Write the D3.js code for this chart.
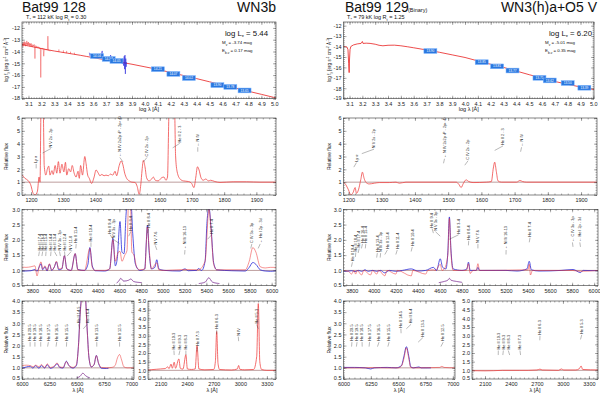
<!DOCTYPE html>
<html>
<head>
<meta charset="utf-8">
<script src="https://cdn.jsdelivr.net/npm/d3@7/dist/d3.min.js"></script>
<style>
  body { margin: 0; background: #fff; }
  svg { font-family: "Liberation Sans", Arial, sans-serif; }
</style>
</head>
<body>
<svg id="chart" width="600" height="394"></svg>
<script>
// ===== Bat99 128 =====
// SED: model (log lambda, log f)
var sedModel128 = [[3.05,-13.42],[3.1,-13.53],[3.15,-13.64],[3.2,-13.75],[3.25,-13.86],[3.3,-13.96],[3.35,-14.05],[3.4,-14.14],[3.45,-14.23],[3.5,-14.32],[3.55,-14.42],[3.6,-14.52],[3.65,-14.62],[3.7,-14.7],[3.75,-14.78],[3.8,-14.88],[3.85,-14.98],[3.9,-15.08],[4.0,-15.3],[4.1,-15.52],[4.2,-15.78],[4.3,-16.04],[4.4,-16.3],[4.5,-16.57],[4.6,-16.84],[4.7,-17.1],[4.8,-17.37],[4.9,-17.63],[5.0,-17.9],[5.013,-17.93]];
// small emission spikes on the model: [log lambda, base, top]
var sedSpikes128 = [[3.335,-14.03,-13.82],[3.37,-14.09,-13.9],[3.395,-14.13,-13.95],[3.425,-14.18,-14.02],[3.455,-14.24,-14.1]];
var sedUV128 = [[3.05,-13.55],[3.053,-13.3],[3.057,-13.6],[3.06,-13.25],[3.064,-13.5],[3.067,-13.15],[3.07,-13.45],[3.074,-13.2],[3.077,-13.55],[3.08,-13.3],[3.084,-13.4],[3.087,-13.1],[3.09,-13.45],[3.094,-13.25],[3.097,-13.5],[3.1,-13.2],[3.104,-13.45],[3.107,-13.3],[3.11,-13.55],[3.114,-13.35],[3.117,-13.5],[3.12,-13.3],[3.124,-13.55],[3.128,-13.4],[3.132,-13.6],[3.136,-13.45],[3.14,-13.55],[3.144,-13.4],[3.148,-13.6],[3.15,-14.6],[3.152,-13.55],[3.156,-13.5],[3.16,-13.65],[3.164,-13.55],[3.168,-13.6],[3.172,-13.7],[3.176,-13.6],[3.18,-13.7],[3.184,-13.65],[3.188,-13.75],[3.192,-13.7],[3.195,-16.2],[3.198,-13.7],[3.202,-13.75],[3.206,-13.7],[3.21,-13.8],[3.214,-13.75],[3.218,-14.4],[3.222,-13.8],[3.228,-13.82],[3.234,-13.85],[3.24,-13.85],[3.246,-13.88],[3.25,-12.7],[3.254,-13.9],[3.26,-13.92],[3.27,-13.95]];
var sedOpt128 = [[3.57,-14.1],[3.575,-14.35],[3.58,-14.2],[3.59,-14.45],[3.6,-14.35],[3.61,-14.5],[3.62,-14.4],[3.63,-14.55],[3.64,-14.45],[3.65,-14.5],[3.66,-14.3],[3.67,-13.95],[3.675,-14.5],[3.68,-14.6],[3.69,-14.5],[3.7,-14.65],[3.71,-14.55],[3.72,-14.7],[3.73,-14.5],[3.735,-14.3],[3.74,-14.7],[3.75,-14.75],[3.76,-14.65],[3.77,-14.8],[3.78,-14.75],[3.79,-14.85],[3.8,-14.8],[3.81,-14.9],[3.82,-14.75],[3.825,-15.05],[3.83,-14.6],[3.835,-15.2],[3.84,-14.4],[3.843,-15.5],[3.846,-14.3],[3.849,-15.9],[3.852,-14.6],[3.855,-15.3],[3.858,-14.9]];
var photo128 = [[3.63,-14.39,"14.04"],[3.72,-14.63,"14.17"],[3.78,-14.8,"14.05"],[4.1,-15.5,"14.21"],[4.22,-15.9,"14.07"],[4.34,-16.25,"14.02"],[4.56,-16.85,"13.90"],[4.66,-17.0,"13.78"],[4.77,-17.3,"13.65"]];

// UV normalized (lambda, rel. flux)
var uv128 = [[1173,1.55],[1181,1.3],[1190,1.15],[1199,0.8],[1207,0.1],[1213,0],[1220,0.3],[1225,1.4],[1228,1.0],[1231,6.5],[1238,6.5],[1241,2.3],[1246,1.55],[1251,2.05],[1255,2.25],[1259,1.55],[1265,1.9],[1269,1.6],[1275,2.3],[1280,1.7],[1285,2.6],[1290,1.7],[1296,2.4],[1302,1.8],[1307,2.55],[1311,1.55],[1317,2.05],[1323,1.8],[1328,2.3],[1334,1.7],[1340,1.4],[1346,1.85],[1350,1.3],[1354,2.3],[1360,1.55],[1367,3.0],[1371,2.45],[1376,1.55],[1381,1.3],[1388,0.9],[1396,1.4],[1402,1.95],[1409,1.7],[1414,1.5],[1420,1.6],[1427,1.5],[1433,1.55],[1440,1.5],[1447,1.63],[1454,1.55],[1461,1.85],[1466,1.5],[1474,2.3],[1480,2.65],[1485,2.4],[1491,1.7],[1497,1.3],[1505,1.1],[1513,1.0],[1523,0.98],[1530,0.65],[1536,0.05],[1541,0.8],[1545,1.95],[1549,2.7],[1554,2.2],[1559,1.35],[1566,1.1],[1575,1.25],[1580,1.4],[1586,1.15],[1595,1.1],[1606,1.35],[1613,1.4],[1619,1.15],[1624,1.4],[1629,6.5],[1646,6.5],[1649,3.1],[1654,1.8],[1663,1.25],[1673,1.1],[1689,1.05],[1699,0.9],[1706,0.57],[1712,1.4],[1717,2.2],[1722,1.95],[1728,1.35],[1735,1.15],[1743,1.25],[1751,1.1],[1758,1.15],[1771,1.05],[1787,0.98],[1828,1.03],[1870,1.03],[1911,1.0],[1961,1.0]];
// labels: [line lambda, text lambda, text, bottom value]
var uvLab128 = [[1216,1216,"Ly α",2.5],[1236,1262,"N V 2s - 2p",3.7],[1486,1476,"← N IV 2s2p ¹P - 2p² ¹D",3.0],[1549,1560,"C IV 2s - 2p",3.0],[1640,1662,"He II 2 - 3",4.1],[1718,1718,"← N IV",3.8]];

// optical: observed (blue) and model (red)
var opt128Obs = [[3686,0.98],[3741,0.98],[3788,0.99],[3824,1.03],[3843,0.97],[3864,1.12],[3880,1.22],[3895,1.02],[3917,1.12],[3935,0.98],[3957,1.2],[3978,1.0],[4003,1.12],[4021,1.28],[4043,1.02],[4071,1.05],[4095,1.48],[4117,1.05],[4157,1.0],[4194,1.55],[4218,1.03],[4280,1.0],[4311,1.2],[4329,1.75],[4351,1.15],[4378,0.99],[4464,0.98],[4511,1.05],[4541,2.05],[4563,1.15],[4581,1.4],[4606,2.6],[4624,1.6],[4643,1.55],[4661,2.8],[4680,3.4],[4704,3.4],[4723,2.2],[4748,1.2],[4788,1.0],[4834,1.05],[4846,1.8],[4858,2.48],[4874,1.6],[4895,1.05],[4926,1.1],[4944,1.35],[4963,1.05],[5018,1.0],[5157,0.98],[5203,1.05],[5234,0.99],[5311,1.0],[5326,1.06],[5357,1.0],[5388,1.3],[5406,2.6],[5424,3.05],[5443,2.4],[5467,1.25],[5495,1.02],[5634,0.99],[5757,0.98],[5794,1.1],[5827,1.26],[5855,1.2],[5895,1.02],[5941,0.98],[5988,0.97],[6040,0.99]];
var opt128Mod = [[3686,1.12],[3741,1.1],[3788,1.12],[3824,1.15],[3843,0.82],[3864,1.15],[3880,1.28],[3895,1.05],[3917,1.15],[3935,1.0],[3957,1.22],[3978,1.02],[4003,1.12],[4021,1.3],[4043,1.05],[4071,1.06],[4095,1.48],[4117,1.05],[4157,1.0],[4194,1.55],[4218,1.02],[4280,1.0],[4329,1.72],[4351,1.1],[4378,1.0],[4464,1.0],[4511,1.05],[4541,2.0],[4563,1.3],[4590,1.6],[4606,1.62],[4624,1.3],[4650,1.5],[4670,1.65],[4686,3.4],[4700,3.4],[4715,1.6],[4735,1.5],[4760,1.1],[4788,1.02],[4834,1.05],[4858,2.42],[4874,1.7],[4895,1.05],[4944,1.25],[4963,1.02],[5018,1.0],[5203,1.03],[5326,1.02],[5388,1.3],[5424,3.0],[5443,2.3],[5467,1.2],[5495,1.02],[5757,1.02],[5794,1.3],[5827,1.75],[5855,1.6],[5895,1.12],[5941,1.08],[5988,1.1],[6040,1.1]];
var opt128InsetA = [[4575,0.58],[4600,0.68],[4612,0.74],[4640,0.65],[4686,0.68],[4705,0.72],[4730,0.64],[4770,0.61],[4805,0.6]];
var opt128InsetB = [[5330,0.57],[5390,0.62],[5422,0.76],[5455,0.62],[5520,0.57]];
var optLab128 = [[3858,3865,"He II 17-4",1.65],[3888,3895,"He II 16-4",1.65],[3923,3926,"He II 15-4",1.65],[3968,3972,"He II 14-4",1.65],[4026,4003,"He II 13-4",1.65],[4058,4050,"N IV 3s - 3p",1.65],[4100,4096,"He II 12-4",1.65],[4120,4157,"N V 11-8",1.65],[4200,4203,"He II 11-4",1.9],[4339,4339,"He II 10-4",1.95],[4541,4515,"He II 9-4",2.2],[4603,4545,"N V 3s - 3p",2.05],[4686,4704,"He II 3-4",2.3],[4859,4870,"He II 8-4",2.4],[4945,4930,"N V 7-6",1.85],[5200,5203,"← N IV 16-13",1.7],[5411,5449,"He II 7-4",2.2],[5808,5818,"C IV 3s - 3p",1.9],[5876,5895,"← He I 2p - 3d",1.9]];

// He II 6560 region
var heii128Obs = [[6000,0.99],[6040,1.04],[6076,1.07],[6100,0.99],[6125,1.1],[6155,0.98],[6177,1.1],[6207,0.99],[6231,1.14],[6258,0.98],[6298,1.07],[6320,1.19],[6344,1.02],[6375,0.99],[6405,1.3],[6429,1.1],[6466,0.99],[6497,1.1],[6515,1.96],[6533,3.6],[6551,4.3],[6576,4.3],[6594,2.85],[6612,1.44],[6633,1.04],[6658,1.14],[6679,1.56],[6700,1.19],[6725,0.98],[6770,0.97],[6790,0.98]];
var heii128Mod = [[6000,1.1],[6040,1.12],[6076,1.1],[6100,1.05],[6125,1.12],[6155,1.05],[6177,1.15],[6207,1.02],[6231,1.18],[6258,1.02],[6298,1.1],[6320,1.22],[6344,1.05],[6375,1.02],[6405,1.28],[6429,1.1],[6466,1.02],[6497,1.15],[6515,1.9],[6533,3.5],[6551,4.3],[6576,4.3],[6594,2.8],[6612,1.45],[6633,1.05],[6658,1.15],[6679,1.55],[6700,1.2],[6725,1.02],[6770,1.0],[6820,1.02],[6850,1.1],[6872,1.45],[6891,1.6],[6910,1.35],[6930,1.05],[6960,1.0],[7023,1.0]];
var heii128Inset = [[6500,0.55],[6530,0.62],[6556,0.76],[6582,0.64],[6620,0.55]];
var heiiLab128 = [[6074,6074,"He II 20-5",2.2],[6118,6118,"He II 19-5",2.2],[6171,6171,"He II 18-5",2.2],[6234,6241,"He II 17-5",2.2],[6311,6317,"He II 16-5",2.2],[6406,6408,"He II 15-5",2.2],[6527,6515,"He II 14-5",3.0],[6560,6596,"He II 6-4",3.0],[6683,6683,"He II 13-5",2.2],[6891,6891,"He II 12-5",2.2]];

// He II 3-n (UV 2000-3400)
var uvHe128 = [[1957,1.02],[2000,1.04],[2050,1.06],[2100,1.08],[2150,1.1],[2180,1.2],[2195,1.1],[2217,1.36],[2232,1.12],[2253,1.47],[2268,1.12],[2306,1.66],[2322,1.12],[2352,1.07],[2385,1.9],[2402,1.08],[2450,1.05],[2490,1.08],[2511,2.42],[2532,1.08],[2600,1.03],[2700,1.05],[2718,1.5],[2733,3.24],[2748,1.4],[2765,1.05],[2900,1.02],[2966,1.08],[2981,1.28],[2995,1.06],[3050,1.03],[3150,1.05],[3185,1.8],[3203,4.85],[3220,1.5],[3240,1.05],[3300,1.0],[3403,1.0]];
var uvHeLab128 = [[2253,2250,"He II 10-3",2.2],[2306,2318,"He II 9-3",2.2],[2385,2385,"He II 8-3",2.2],[2511,2513,"He II 7-3",2.4],[2733,2733,"He II 6-3",3.4],[2981,2977,"N IV",3.0],[3203,3185,"He II 5-3",3.7]];

// ===== Bat99 129 =====
var sedModel129 = [[3.053,-14.0],[3.07,-14.02],[3.08,-14.05],[3.088,-14.3],[3.093,-15.6],[3.097,-16.5],[3.1,-15.2],[3.104,-14.3],[3.11,-14.0],[3.13,-13.85],[3.16,-13.75],[3.19,-13.7],[3.2,-13.52],[3.205,-13.7],[3.23,-13.68],[3.26,-13.7],[3.3,-13.78],[3.33,-13.88],[3.36,-13.93],[3.4,-13.88],[3.45,-13.87],[3.5,-13.93],[3.55,-14.02],[3.6,-14.12],[3.7,-14.33],[3.8,-14.55],[3.9,-14.8],[4.0,-15.05],[4.1,-15.38],[4.2,-15.7],[4.3,-16.0],[4.4,-16.35],[4.5,-16.7],[4.6,-17.02],[4.7,-17.35],[4.8,-17.62],[4.9,-17.88],[5.005,-18.12]];
var photo129 = [[3.73,-14.43,"13.90"],[4.13,-15.5,"13.85"],[4.25,-15.9,"13.81"],[4.37,-16.3,"13.77"],[4.58,-17.0,"13.71"],[4.66,-17.25,"13.62"],[4.8,-17.5,"13.50"],[4.93,-17.95,"13.39"]];

var uv129 = [[1185,1.0],[1192,0.8],[1200,0.4],[1207,0],[1214,0.2],[1220,0.58],[1224,0.13],[1230,0.4],[1237,1.2],[1242,1.78],[1247,1.3],[1252,1.0],[1262,0.86],[1278,0.92],[1293,0.97],[1323,0.97],[1343,1.0],[1353,0.92],[1373,1.0],[1524,1.0],[1532,0.84],[1539,0.58],[1546,0.92],[1554,1.18],[1562,1.05],[1575,0.97],[1615,1.0],[1630,1.05],[1636,2.1],[1640,2.56],[1645,1.83],[1650,1.1],[1660,1.0],[1706,1.0],[1716,1.13],[1724,1.05],[1736,1.0],[1948,1.0]];
var uvLab129 = [[1216,1224,"Ly α",2.6],[1240,1277,"N V 2s - 2p",3.65],[1486,1489,"← N IV 2s2p ¹P - 2p² ¹D",2.9],[1550,1560,"C IV 2s - 2p",2.75],[1640,1665,"He II 2 - 3",3.9],[1718,1721,"← N IV",3.8]];

var opt129Obs = [[3700,0.98],[3750,0.97],[3800,0.99],[3830,0.96],[3860,1.0],[3890,0.97],[3920,1.02],[3950,0.97],[3990,1.0],[4026,0.97],[4060,1.0],[4100,0.92],[4140,1.0],[4200,0.97],[4260,1.0],[4340,1.05],[4400,0.98],[4471,1.0],[4541,1.1],[4570,1.0],[4603,1.38],[4625,1.1],[4655,1.05],[4672,1.6],[4686,2.75],[4700,1.7],[4720,1.05],[4800,1.0],[4845,1.05],[4859,1.27],[4875,1.0],[4930,1.0],[4945,1.1],[4960,1.0],[5200,1.0],[5300,0.98],[5390,1.05],[5411,1.3],[5430,1.02],[5500,0.98],[5700,1.0],[5808,1.03],[5876,0.93],[5900,1.0],[6040,0.99]];
var opt129Mod = [[3700,1.0],[3770,0.97],[3798,0.88],[3820,1.0],[3835,0.88],[3850,1.0],[3889,0.85],[3910,1.0],[3970,0.85],[3990,1.0],[4026,0.88],[4045,1.0],[4100,0.82],[4120,1.0],[4200,0.88],[4215,1.0],[4340,0.82],[4355,1.0],[4471,0.88],[4490,1.0],[4541,1.02],[4560,1.0],[4603,1.2],[4620,1.0],[4640,1.05],[4672,1.5],[4686,2.7],[4700,1.6],[4720,1.0],[4840,1.0],[4859,1.22],[4875,0.9],[4900,1.0],[4930,1.0],[4945,1.22],[4960,1.0],[5400,1.02],[5411,1.2],[5422,0.85],[5440,1.0],[5800,1.0],[5876,0.97],[6040,1.0]];
var opt129Inset = [[4590,0.6],[4640,0.64],[4672,0.68],[4686,0.74],[4700,0.68],[4750,0.64],[4800,0.61]];
var optLab129 = [[3797,3806,"He II 19-4",1.3],[3833,3837,"He II 18-4",1.62],[3858,3867,"He II 17-4",1.75],[3888,3897,"He II 16-4",1.9],[3923,3927,"He II 15-4",1.9],[4026,4032,"He II 13-4",1.6],[4058,4062,"N IV 3s - 3p",1.6],[4100,4123,"He II 12-4",1.7],[4200,4213,"He II 11-4",1.7],[4339,4349,"He II 10-4",1.8],[4541,4529,"He II 9-4",2.4],[4603,4560,"N V 3s - 3p",2.3],[4686,4770,"He II 3-4",2.2],[4859,4861,"He II 8-4",2.0],[4945,4945,"N V 7-6",1.9],[5200,5201,"← N IV 16-13",1.7],[5411,5418,"He II 7-4",2.1],[5808,5803,"← C IV 3s - 3p",1.95],[5876,5870,"← He I 2p - 3d",1.95]];

var heii129Obs = [[6000,1.02],[6100,1.02],[6200,1.0],[6250,0.95],[6280,1.0],[6400,1.02],[6480,1.0],[6530,1.1],[6552,1.5],[6575,1.95],[6598,1.5],[6615,1.05],[6640,1.0],[6690,1.04],[6710,1.0],[6800,1.0]];
var heii129Mod = [[6000,1.0],[6100,1.0],[6200,1.0],[6300,1.01],[6400,1.0],[6500,1.0],[6530,1.08],[6552,1.4],[6575,1.9],[6598,1.4],[6615,1.02],[6640,1.0],[6880,1.02],[6900,1.07],[6920,1.02],[7020,1.0]];
var heiiLab129 = [[6074,6077,"He II 20-5",2.2],[6118,6124,"He II 19-5",2.2],[6171,6170,"He II 18-5",2.2],[6234,6238,"He II 17-5",2.2],[6311,6325,"He II 16-5",2.2],[6406,6417,"He II 15-5",2.2],[6527,6525,"He II 14-5",2.8],[6575,6618,"He II 6-4",3.0],[6683,6726,"He II 13-5",2.4],[6891,6912,"He II 12-5",2.2]];

var uvHe129 = [[1950,0.98],[2100,0.97],[2200,0.98],[2300,1.0],[2400,1.0],[2500,1.0],[2600,1.0],[2700,1.02],[2735,1.07],[2760,1.02],[2950,1.0],[2981,1.08],[3010,1.02],[3150,1.02],[3190,1.1],[3210,1.25],[3228,1.05],[3405,1.02]];
var uvHeLab129 = [[2253,2254,"He II 10-3",2.2],[2306,2312,"He II 9-3",2.2],[2385,2369,"He II 8-3",2.2],[2511,2504,"He II 7-3",2.2],[2733,2735,"He II 6-3",3.05],[3203,3217,"He II 5-3",3.1]];

// ===================================================
var svg = d3.select("#chart");
var nClip = 0;
var RED = "#ee3030", BLUE = "#2a2ad8";

function steps(a, b, s) {
  return d3.range(Math.round(a / s), Math.round(b / s) + 1).map(function (k) { return +(k * s).toFixed(4); });
}

function makePanel(o) {
  var x = d3.scaleLinear().domain(o.xd).range([o.x0, o.x1]);
  var y = d3.scaleLinear().domain(o.yd).range([o.y1, o.y0]);
  var g = svg.append("g");
  var id = "clip" + (nClip++);
  svg.append("clipPath").attr("id", id).append("rect")
    .attr("x", o.x0).attr("y", o.y0).attr("width", o.x1 - o.x0).attr("height", o.y1 - o.y0);
  var plot = g.append("g").attr("clip-path", "url(#" + id + ")");

  var xMin = steps(o.xd[0], o.xd[1], o.xm).filter(function (v) { return v >= o.xd[0] && v <= o.xd[1]; });
  var yMin = steps(o.yd[0], o.yd[1], o.ym).filter(function (v) { return v >= o.yd[0] && v <= o.yd[1]; });

  function axis(gen, tr, vals, size, fmt, pad) {
    var a = g.append("g").attr("transform", tr)
      .call(gen.tickValues(vals).tickSizeInner(-size).tickSizeOuter(0).tickPadding(pad || 2).tickFormat(fmt || ""));
    a.select(".domain").remove();
    a.attr("font-family", null).attr("font-size", 5.5);
    a.selectAll("line").attr("stroke", "#333").attr("stroke-width", 0.4);
    a.selectAll("text").attr("fill", "#222");
    return a;
  }
  axis(d3.axisBottom(x), "translate(0," + o.y1 + ")", o.xt, 3, o.xf, 3.2);
  axis(d3.axisBottom(x), "translate(0," + o.y1 + ")", xMin, 1.5);
  axis(d3.axisTop(x), "translate(0," + o.y0 + ")", o.xt, 3);
  axis(d3.axisTop(x), "translate(0," + o.y0 + ")", xMin, 1.5);
  var yl = axis(d3.axisLeft(y), "translate(" + o.x0 + ",0)", o.yt, 3, o.yf);
  // keep the lowest y label clear of the first x label
  yl.selectAll("text").filter(function (d) { return d === o.yd[0]; }).attr("dy", "0.1em");
  axis(d3.axisLeft(y), "translate(" + o.x0 + ",0)", yMin, 1.5);
  axis(d3.axisRight(y), "translate(" + o.x1 + ",0)", o.yt, 3);
  axis(d3.axisRight(y), "translate(" + o.x1 + ",0)", yMin, 1.5);

  g.append("rect").attr("x", o.x0).attr("y", o.y0)
    .attr("width", o.x1 - o.x0).attr("height", o.y1 - o.y0)
    .attr("fill", "none").attr("stroke", "#333").attr("stroke-width", 0.6);

  if (o.unit) {
    plot.append("line").attr("x1", o.x0).attr("x2", o.x1)
      .attr("y1", y(1)).attr("y2", y(1)).attr("stroke", "#7a3a3a").attr("stroke-width", 0.5);
  }
  return { x: x, y: y, g: g, plot: plot };
}

function drawLine(p, data, color, width, opacity, linear) {
  p.plot.append("path").datum(data)
    .attr("fill", "none").attr("stroke", color)
    .attr("stroke-width", width).attr("stroke-opacity", opacity)
    .attr("stroke-linejoin", "round")
    .attr("d", d3.line().x(function (d) { return p.x(d[0]); }).y(function (d) { return p.y(d[1]); })
      .curve(linear ? d3.curveLinear : d3.curveMonotoneX));
}

function drawLabels(p, list) {
  list.forEach(function (l) {
    var tx = p.x(l[1]), lx = p.x(l[0]), ty = p.y(l[3]);
    p.g.append("line").attr("x1", tx).attr("y1", ty + 1).attr("x2", lx).attr("y2", ty + 5.5)
      .attr("stroke", "#333").attr("stroke-width", 0.35);
    p.g.append("text").attr("transform", "translate(" + (tx + 1.3) + "," + ty + ") rotate(-90)")
      .attr("font-size", 3.8).attr("fill", "#222").text(l[2]);
  });
}

function drawPhoto(p, list) {
  list.forEach(function (d) {
    var cx = p.x(d[0]), cy = p.y(d[1]);
    p.g.append("rect").attr("x", cx - 6.5).attr("y", cy - 2.4).attr("width", 13).attr("height", 4.8)
      .attr("fill", "#2a78e0").attr("stroke", "#7fb6ff").attr("stroke-width", 0.5);
    p.g.append("text").attr("x", cx).attr("y", cy + 1.1).attr("text-anchor", "middle")
      .attr("font-size", 3.2).attr("fill", "#fff").text(d[2]);
  });
}

function txt(x, y, size, anchor, parts, rot) {
  var t = svg.append("text").attr("font-size", size).attr("text-anchor", anchor || "start").attr("fill", "#111");
  if (rot) t.attr("transform", "translate(" + x + "," + y + ") rotate(-90)");
  else t.attr("x", x).attr("y", y);
  parts.forEach(function (pt) {
    if (typeof pt === "string") t.append("tspan").text(pt);
    else t.append("tspan").attr("baseline-shift", pt[1]).attr("font-size", size * 0.7).text(pt[0]);
  });
  return t;
}

var fmt1 = d3.format(".1f");
var fmtInt = function (d) { return String(d); };

// ---------- column builder ----------
function column(c) {
  // SED
  var sed = makePanel({ x0: c.x0, x1: c.sedX1, y0: 22, y1: 98.7, xd: c.sedXd, yd: c.sedYd,
    xt: steps(3.1, 5.0, 0.1), xm: 0.02, yt: c.sedYt, ym: 0.2, xf: fmt1, yf: fmtInt });
  c.sedDraw(sed);
  drawPhoto(sed, c.photo);

  var uv = makePanel({ x0: c.x0, x1: c.x1u, y0: 118, y1: 195, xd: c.uvXd, yd: [0, 6],
    xt: steps(1200, 1900, 100), xm: 20, yt: steps(0, 6, 1), ym: 0.2, xf: fmtInt, yf: fmtInt, unit: true });
  drawLine(uv, c.uv, "#f04848", 0.8, 1);
  drawLabels(uv, c.uvLab);

  var op = makePanel({ x0: c.x0, x1: c.x1o, y0: 209.3, y1: 285.7, xd: c.optXd, yd: [0.5, 3.0],
    xt: steps(3800, 6000, 200), xm: 50, yt: steps(0.5, 3.0, 0.5), ym: 0.1, xf: fmtInt, yf: fmt1, unit: true });
  drawLine(op, c.optObs, BLUE, 0.8, 1);
  drawLine(op, c.optMod, RED, 0.8, 0.65);
  c.optInsets.forEach(function (ins) {
    drawLine(op, ins, BLUE, 0.6, 0.9);
    drawLine(op, ins, RED, 0.6, 0.5);
  });
  drawLabels(op, c.optLab);

  var he = makePanel({ x0: c.x0, x1: c.heX1, y0: 301, y1: 379, xd: c.heXd, yd: [0.5, 4.0],
    xt: steps(6000, 7000, 250), xm: 50, yt: steps(0.5, 4.0, 0.5), ym: 0.1, xf: fmtInt, yf: fmt1, unit: true });
  drawLine(he, c.heObs, BLUE, 0.8, 1);
  drawLine(he, c.heMod, RED, 0.8, 0.65);
  if (c.heInset) { drawLine(he, c.heInset, BLUE, 0.6, 0.9); drawLine(he, c.heInset, RED, 0.6, 0.5); }
  drawLabels(he, c.heLab);

  var uh = makePanel({ x0: c.uhX0, x1: c.uhX1, y0: 301, y1: 379, xd: c.uhXd, yd: [0.5, 5.0],
    xt: steps(2100, 3300, 300), xm: 50, yt: steps(0.5, 5.0, 0.5), ym: 0.1, xf: fmtInt, yf: fmt1, unit: true });
  drawLine(uh, c.uhData, "#f04848", 0.8, 1);
  drawLabels(uh, c.uhLab);

  // axis titles
  txt((c.x0 + c.sedX1) / 2, 110.5, 5.5, "middle", ["log λ [Å]"]);
  txt(c.ylx, 60, 4.6, "middle", ["log f", ["λ", "sub"], " [erg s", ["-1", "super"], " cm", ["-2", "super"], " Å", ["-1", "super"], "]"], true);
  [156.5, 247.5, 340].forEach(function (yy) { txt(c.ylx, yy, 5, "middle", ["Relative flux"], true); });
  txt((c.x0 + c.heX1) / 2, 392, 5.5, "middle", ["λ [Å]"]);
  txt((c.uhX0 + c.uhX1) / 2, 392, 5.5, "middle", ["λ [Å]"]);
}

column({
  x0: 22, x1u: 276, x1o: 276, sedX1: 276, sedXd: [3.05, 5.013], sedYd: [-18, -11.5], sedYt: steps(-18, -12, 1),
  sedDraw: function (p) {
    drawLine(p, sedUV128, "#f04040", 0.5, 0.9, true);
    drawLine(p, sedModel128, "#e82020", 0.8, 1, true);
    sedSpikes128.forEach(function (s) {
      p.plot.append("line").attr("x1", p.x(s[0])).attr("x2", p.x(s[0])).attr("y1", p.y(s[1])).attr("y2", p.y(s[2]))
        .attr("stroke", "#e82020").attr("stroke-width", 0.5);
    });
    drawLine(p, sedOpt128, "#1515d8", 0.5, 1, true);
  },
  photo: photo128,
  uvXd: [1172, 1961], uv: uv128, uvLab: uvLab128,
  optXd: [3705, 6040], optObs: opt128Obs, optMod: opt128Mod, optInsets: [opt128InsetA, opt128InsetB], optLab: optLab128,
  heX1: 134, heXd: [6000, 7023], heObs: heii128Obs, heMod: heii128Mod, heInset: heii128Inset, heLab: heiiLab128,
  uhX0: 148, uhX1: 276, uhXd: [1957, 3403], uhData: uvHe128, uhLab: uvHeLab128,
  ylx: 8
});

column({
  x0: 343.5, x1u: 597, x1o: 598, sedX1: 594, sedXd: [3.053, 5.005], sedYd: [-19, -11.65], sedYt: steps(-19, -12, 1),
  sedDraw: function (p) {
    drawLine(p, sedModel129, "#e82020", 0.8, 1, true);
  },
  photo: photo129,
  uvXd: [1185, 1948], uv: uv129, uvLab: uvLab129,
  optXd: [3725, 6035], optObs: opt129Obs, optMod: opt129Mod, optInsets: [opt129Inset], optLab: optLab129,
  heX1: 455, heXd: [6000, 7020], heObs: heii129Obs, heMod: heii129Mod, heInset: null, heLab: heiiLab129,
  uhX0: 472, uhX1: 598, uhXd: [1950, 3405], uhData: uvHe129, uhLab: uvHeLab129,
  ylx: 331
});

// ---------- titles ----------
txt(22, 12, 14, "start", ["Bat99 128"]);
txt(276, 12, 14, "end", ["WN3b"]);
txt(26, 18.5, 5.5, "start", ["T", ["*", "sub"], " = 112 kK   log R", ["t", "sub"], " = 0.30"]);
txt(268, 35.5, 7.8, "end", ["log L", ["*", "sub"], " = 5.44"]);
txt(222, 44, 4.4, "start", ["M", ["v", "sub"], " = -3.74 mag"]);
txt(222, 52, 4.4, "start", ["E", ["b-v", "sub"], " = 0.17 mag"]);

txt(345, 12, 14, "start", ["Bat99 129"]);
txt(408, 12, 5.5, "start", ["(Binary)"]);
txt(597, 12, 14, "end", ["WN3(h)a+O5 V"]);
txt(347, 18.5, 5.5, "start", ["T", ["*", "sub"], " =  79 kK   log R", ["t", "sub"], " = 1.25"]);
txt(592, 35.5, 7.8, "end", ["log L", ["*", "sub"], " = 6.20"]);
txt(545, 44, 4.4, "start", ["M", ["v", "sub"], " = -5.01 mag"]);
txt(545, 52, 4.4, "start", ["E", ["b-v", "sub"], " = 0.35 mag"]);
</script>
</body>
</html>
